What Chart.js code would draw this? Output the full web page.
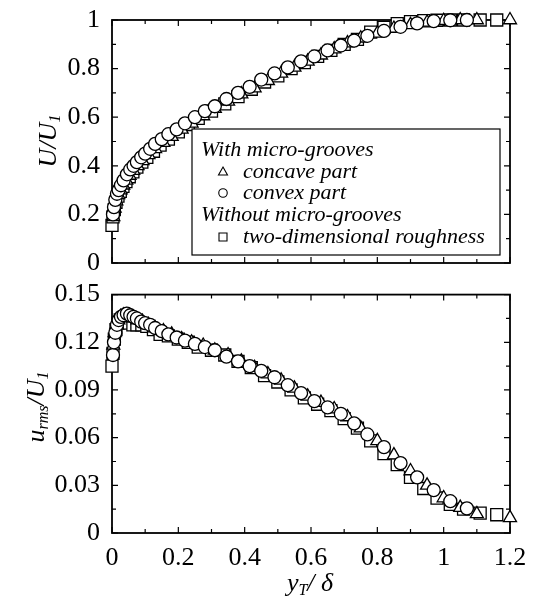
<!DOCTYPE html>
<html>
<head>
<meta charset="utf-8">
<script src="https://cdn.jsdelivr.net/npm/chart.js@4.4.1/dist/chart.umd.min.js"></script>
<style>
  html, body { margin: 0; padding: 0; background: #fff; }
  #wrap { position: relative; width: 535px; height: 601px; }
  canvas { position: absolute; left: 0; }
  #top-chart { top: 0; }
  #bottom-chart { top: 275px; }
</style>
</head>
<body>
<div id="wrap">
  <canvas id="top-chart" width="535" height="290"></canvas>
  <canvas id="bottom-chart" width="535" height="326"></canvas>
</div>
<script>
// ----- Données -----
// convex part (cercles)
const xConvex = [0.003, 0.006, 0.01, 0.015, 0.02, 0.027, 0.035, 0.045, 0.055, 0.065, 0.075, 0.088, 0.1, 0.115, 0.13, 0.15, 0.17, 0.195, 0.22, 0.25, 0.28, 0.31, 0.345, 0.38, 0.415, 0.45, 0.49, 0.53, 0.57, 0.61, 0.65, 0.69, 0.73, 0.77, 0.82, 0.87, 0.92, 0.97, 1.02, 1.07];
const uConvex = [0.20, 0.23, 0.26, 0.285, 0.30, 0.32, 0.34, 0.365, 0.385, 0.40, 0.415, 0.435, 0.45, 0.47, 0.49, 0.51, 0.53, 0.55, 0.575, 0.60, 0.625, 0.645, 0.675, 0.70, 0.725, 0.755, 0.78, 0.805, 0.83, 0.85, 0.875, 0.895, 0.915, 0.935, 0.955, 0.972, 0.986, 0.995, 0.999, 1.0];
const rmsConvex = [0.112, 0.120, 0.126, 0.131, 0.134, 0.136, 0.137, 0.138, 0.137, 0.136, 0.135, 0.133, 0.132, 0.131, 0.129, 0.127, 0.125, 0.123, 0.121, 0.119, 0.117, 0.115, 0.111, 0.108, 0.105, 0.102, 0.098, 0.093, 0.088, 0.083, 0.079, 0.075, 0.069, 0.062, 0.054, 0.044, 0.035, 0.027, 0.020, 0.0155];

// concave part (triangles)
const xConcave = [0.004, 0.008, 0.013, 0.019, 0.026, 0.034, 0.043, 0.053, 0.064, 0.077, 0.092, 0.11, 0.13, 0.155, 0.18, 0.21, 0.24, 0.275, 0.31, 0.35, 0.39, 0.43, 0.47, 0.51, 0.55, 0.59, 0.63, 0.67, 0.71, 0.75, 0.8, 0.85, 0.9, 0.95, 1.0, 1.05, 1.1, 1.2];
const uConcave = [0.19, 0.225, 0.255, 0.28, 0.30, 0.32, 0.34, 0.36, 0.38, 0.40, 0.42, 0.445, 0.47, 0.495, 0.52, 0.55, 0.575, 0.605, 0.635, 0.665, 0.695, 0.72, 0.75, 0.78, 0.805, 0.83, 0.855, 0.88, 0.905, 0.925, 0.945, 0.965, 0.98, 0.99, 0.997, 1.0, 1.0, 1.0];
const rmsConcave = [0.118, 0.126, 0.131, 0.134, 0.136, 0.137, 0.137, 0.136, 0.135, 0.134, 0.133, 0.131, 0.129, 0.127, 0.125, 0.122, 0.120, 0.118, 0.115, 0.112, 0.108, 0.104, 0.100, 0.096, 0.091, 0.086, 0.082, 0.078, 0.073, 0.066, 0.058, 0.049, 0.039, 0.030, 0.022, 0.016, 0.012, 0.0095];

// two-dimensional roughness (carrés)
const xRough = [0.0, 0.003, 0.007, 0.012, 0.018, 0.025, 0.033, 0.042, 0.052, 0.063, 0.075, 0.09, 0.105, 0.125, 0.145, 0.17, 0.2, 0.23, 0.26, 0.3, 0.34, 0.38, 0.42, 0.46, 0.5, 0.54, 0.58, 0.62, 0.66, 0.7, 0.74, 0.78, 0.82, 0.86, 0.9, 0.94, 0.98, 1.02, 1.06, 1.11, 1.16];
const uRough = [0.155, 0.19, 0.22, 0.25, 0.275, 0.295, 0.315, 0.335, 0.355, 0.375, 0.395, 0.415, 0.435, 0.46, 0.485, 0.51, 0.54, 0.57, 0.595, 0.625, 0.655, 0.685, 0.715, 0.745, 0.77, 0.80, 0.825, 0.85, 0.875, 0.90, 0.92, 0.95, 0.97, 0.985, 0.993, 0.997, 0.999, 1.0, 1.0, 1.0, 1.0];
const rmsRough = [0.105, 0.113, 0.122, 0.128, 0.132, 0.134, 0.134, 0.133, 0.132, 0.131, 0.131, 0.131, 0.130, 0.128, 0.125, 0.124, 0.122, 0.120, 0.117, 0.115, 0.112, 0.108, 0.104, 0.099, 0.095, 0.090, 0.085, 0.081, 0.077, 0.072, 0.066, 0.058, 0.050, 0.043, 0.035, 0.028, 0.022, 0.018, 0.015, 0.0125, 0.0115];

const xTicks = [0, 0.2, 0.4, 0.6, 0.8, 1, 1.2];
const uTicks = [0, 0.2, 0.4, 0.6, 0.8, 1];
const rmsTicks = [0, 0.03, 0.06, 0.09, 0.12, 0.15];

const legendHeads = ['With micro-grooves', 'Without micro-grooves'];
const legendNames = ['concave part', 'convex part', 'two-dimensional roughness'];

const SERIF = '"Liberation Serif", "DejaVu Serif", serif';

function pts(xs, ys) {
  return xs.map((x, i) => ({ x: x, y: ys[i] }));
}

function fmt(v) {
  return String(Number(v.toFixed(3)));
}

// texte avec indices : parts = [[texte, indice?], ...]
function drawRich(ctx, parts, size, cx, cy, rotate) {
  ctx.save();
  ctx.translate(cx, cy);
  if (rotate) ctx.rotate(-Math.PI / 2);
  const subSize = Math.round(size * 0.62);
  let w = 0;
  parts.forEach(p => {
    ctx.font = 'italic ' + (p[1] ? subSize : size) + 'px ' + SERIF;
    w += ctx.measureText(p[0]).width;
  });
  let x = -w / 2;
  ctx.fillStyle = '#000';
  ctx.textBaseline = 'middle';
  parts.forEach(p => {
    ctx.font = 'italic ' + (p[1] ? subSize : size) + 'px ' + SERIF;
    ctx.fillText(p[0], x, p[1] ? size * 0.28 : 0);
    x += ctx.measureText(p[0]).width;
  });
  ctx.restore();
}

// cadre + graduations vers l'intérieur sur les quatre côtés
function frameTicks(xStep, yStep) {
  return {
    id: 'frameTicks',
    beforeDatasetsDraw(chart) {
      const { ctx, chartArea: a, scales: { x, y } } = chart;
      ctx.save();
      ctx.strokeStyle = '#000';
      ctx.lineWidth = 1.2;
      ctx.beginPath();
      const nx = Math.round((x.max - x.min) / xStep);
      for (let i = 0; i <= nx; i++) {
        const px = x.getPixelForValue(x.min + i * xStep);
        const len = i % 2 === 0 ? 6 : 4;
        ctx.moveTo(px, a.bottom); ctx.lineTo(px, a.bottom - len);
        ctx.moveTo(px, a.top); ctx.lineTo(px, a.top + len);
      }
      const ny = Math.round((y.max - y.min) / yStep);
      for (let i = 0; i <= ny; i++) {
        const py = y.getPixelForValue(y.min + i * yStep);
        const len = i % 2 === 0 ? 6 : 4;
        ctx.moveTo(a.left, py); ctx.lineTo(a.left + len, py);
        ctx.moveTo(a.right, py); ctx.lineTo(a.right - len, py);
      }
      ctx.stroke();
      ctx.lineWidth = 1.8;
      ctx.strokeRect(a.left, a.top, a.right - a.left, a.bottom - a.top);
      ctx.restore();
    }
  };
}

function marker(ctx, kind, x, y, r) {
  ctx.beginPath();
  if (kind === 'triangle') {
    ctx.moveTo(x, y - r);
    ctx.lineTo(x + r * 0.9, y + r * 0.6);
    ctx.lineTo(x - r * 0.9, y + r * 0.6);
    ctx.closePath();
  } else if (kind === 'circle') {
    ctx.arc(x, y, r * 0.85, 0, Math.PI * 2);
  } else {
    ctx.rect(x - r * 0.8, y - r * 0.8, r * 1.6, r * 1.6);
  }
  ctx.stroke();
}

const topDecor = {
  id: 'topDecor',
  afterDraw(chart) {
    const ctx = chart.ctx;
    drawRich(ctx, [['U/U', false], ['1', true]], 26, 49, 141, true);
    // légende encadrée
    ctx.save();
    ctx.fillStyle = '#fff';
    ctx.fillRect(192, 129, 308, 126);
    ctx.strokeStyle = '#000';
    ctx.lineWidth = 1.2;
    ctx.strokeRect(192, 129, 308, 126);
    ctx.fillStyle = '#000';
    ctx.textBaseline = 'middle';
    ctx.font = 'italic 22px ' + SERIF;
    const rows = [150, 172, 193, 215, 237];
    ctx.fillText(legendHeads[0], 201, rows[0]);
    ctx.fillText(legendNames[0], 243, rows[1]);
    ctx.fillText(legendNames[1], 243, rows[2]);
    ctx.fillText(legendHeads[1], 201, rows[3]);
    ctx.fillText(legendNames[2], 243, rows[4]);
    ctx.lineWidth = 1.1;
    marker(ctx, 'triangle', 223, rows[1], 5);
    marker(ctx, 'circle', 223, rows[2], 5);
    marker(ctx, 'rect', 223, rows[4], 5);
    ctx.restore();
  }
};

const bottomDecor = {
  id: 'bottomDecor',
  afterDraw(chart) {
    const ctx = chart.ctx;
    drawRich(ctx, [['u', false], ['rms', true], ['/U', false], ['1', true]], 26, 37, 132, true);
    drawRich(ctx, [['y', false], ['T', true], ['/ δ', false]], 26, 310, 309, false);
  }
};

function makeDatasets(yConcave, yConvex, yRough) {
  const base = { showLine: false, pointBackgroundColor: '#fff', pointBorderColor: '#000', pointBorderWidth: 1.3, clip: false };
  return [
    Object.assign({ label: legendNames[1], data: pts(xConvex, yConvex), pointStyle: 'circle', pointRadius: 6.5, order: 0 }, base),
    Object.assign({ label: legendNames[0], data: pts(xConcave, yConcave), pointStyle: 'triangle', pointRadius: 7.5, order: 1 }, base),
    Object.assign({ label: legendNames[2], data: pts(xRough, yRough), pointStyle: 'rect', pointRadius: 8.5, order: 2 }, base)
  ];
}

function axisY(ticks, width) {
  return {
    type: 'linear', min: ticks[0], max: ticks[ticks.length - 1],
    afterBuildTicks: s => { s.ticks = ticks.map(v => ({ value: v })); },
    afterFit: s => { s.width = width; },
    grid: { display: false }, border: { display: false },
    ticks: { color: '#000', padding: 4, font: { family: SERIF, size: 26 }, callback: v => fmt(v) }
  };
}

function axisX(showLabels, height) {
  return {
    type: 'linear', min: 0, max: 1.2,
    afterBuildTicks: s => { s.ticks = xTicks.map(v => ({ value: v })); },
    afterFit: s => { s.height = height; },
    grid: { display: false }, border: { display: false },
    ticks: { display: showLabels, color: '#000', padding: 2, maxRotation: 0, font: { family: SERIF, size: 26 }, callback: v => fmt(v) }
  };
}

Chart.defaults.animation = false;

new Chart(document.getElementById('top-chart'), {
  type: 'scatter',
  data: { datasets: makeDatasets(uConcave, uConvex, uRough) },
  options: {
    responsive: false,
    layout: { padding: { left: 0, right: 25, top: 20, bottom: 27 } },
    plugins: { legend: { display: false }, tooltip: { enabled: false } },
    scales: { x: axisX(false, 0), y: axisY(uTicks, 112) }
  },
  plugins: [frameTicks(0.1, 0.1), topDecor]
});

new Chart(document.getElementById('bottom-chart'), {
  type: 'scatter',
  data: { datasets: makeDatasets(rmsConcave, rmsConvex, rmsRough) },
  options: {
    responsive: false,
    layout: { padding: { left: 0, right: 25, top: 13, bottom: 0 } },
    plugins: { legend: { display: false }, tooltip: { enabled: false } },
    scales: { x: axisX(true, 68), y: axisY(rmsTicks, 112) }
  },
  plugins: [frameTicks(0.1, 0.015), bottomDecor]
});
</script>
</body>
</html>
